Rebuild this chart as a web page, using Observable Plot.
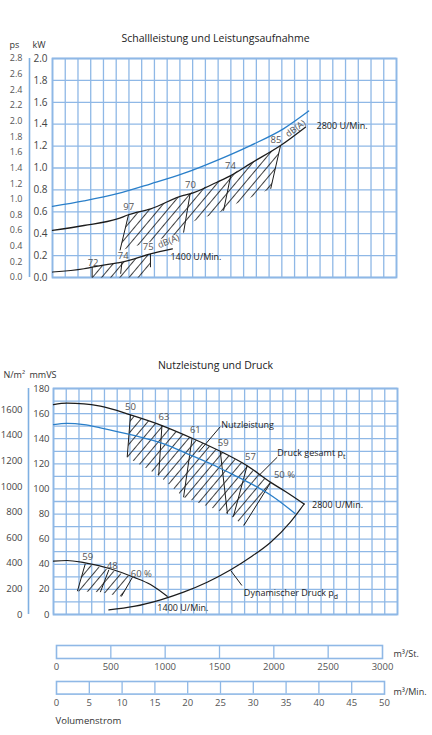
<!DOCTYPE html>
<html><head><meta charset="utf-8">
<script src="https://cdn.jsdelivr.net/npm/d3@7"></script>
<script src="https://cdn.jsdelivr.net/npm/@observablehq/plot@0.6"></script>
<style>
body{margin:0;background:#fff;}
#wrap{position:relative;width:432px;height:735px;overflow:hidden;background:#fff;}
.part{position:absolute;left:0;}
</style></head><body><div id="wrap"></div>
<script>
// ---------------- data (volume flow Q in m³/min) ----------------
const PS_PER_KW = 1.4;          // ps labels as drawn on the chart
const NM2_PER_MMVS = 9.81;
const xDomainTop = [-0.6, 51.9];
const xDomainBot = [-0.45, 52.05];
const gridCols = 27;

const kwTicks = [0.0, 0.2, 0.4, 0.6, 0.8, 1.0, 1.2, 1.4, 1.6, 1.8, 2.0];
const psTicks = [0.0, 0.2, 0.4, 0.6, 0.8, 1.0, 1.2, 1.4, 1.6, 1.8, 2.0, 2.2, 2.4, 2.6, 2.8];
const mmTicks = [0, 20, 40, 60, 80, 100, 120, 140, 160, 180];
const mmGrid = [0, 10, 20, 30, 40, 50, 60, 70, 80, 90, 100, 110, 120, 130, 140, 150, 160, 170, 180];
const nmTicks = [0, 200, 400, 600, 800, 1000, 1200, 1400, 1600];
const stTicks = [0, 500, 1000, 1500, 2000, 2500, 3000];
const minTicks = [0, 5, 10, 15, 20, 25, 30, 35, 40, 45, 50];

// top chart: Leistungsaufnahme (blue) and Schallleistung curves
const pow2800Q  = [-0.6, 4.2, 9.3, 14.4, 19.4, 24.5, 29.6, 34.7, 38.5];
const pow2800kW = [0.65, 0.70, 0.765, 0.855, 0.95, 1.07, 1.205, 1.36, 1.52];
const snd2800Q  = [-0.6, 4.2, 9.3, 11.0, 14.4, 19.4, 20.4, 24.5, 26.6, 29.6, 34.2, 38.0];
const snd2800kW = [0.43, 0.475, 0.535, 0.573, 0.627, 0.75, 0.764, 0.87, 0.93, 1.04, 1.205, 1.373];
const snd1400Q  = [-0.6, 4.2, 5.45, 9.3, 10.0, 14.35, 17.7];
const snd1400kW = [0.05, 0.08, 0.094, 0.134, 0.14, 0.216, 0.262];

const hatchT2800Q  = [11.0, 14.4, 19.4, 24.5, 29.6, 34.2, 32.7, 26.1, 25.5, 20.5, 19.4, 9.7];
const hatchT2800kW = [0.573, 0.627, 0.75, 0.87, 1.04, 1.205, 0.81, 0.64, 0.61, 0.505, 0.41, 0.247];
const hatchT1400Q  = [5.45, 9.3, 10.0, 14.35, 14.35, 12.8, 5.45];
const hatchT1400kW = [0.094, 0.134, 0.14, 0.216, 0.094, 0.0, 0.0];

const dropTQ1 = [11.0, 20.4, 26.6, 34.2, 5.45, 10.0, 14.35];
const dropTV1 = [0.573, 0.764, 0.93, 1.205, 0.094, 0.14, 0.216];
const dropTQ2 = [9.7, 19.4, 25.5, 32.7, 5.45, 9.8, 14.35];
const dropTV2 = [0.247, 0.41, 0.61, 0.81, 0.0, 0.034, 0.094];

const lblTText = ["97", "70", "74", "85", "72", "74", "75"];
const lblTQ    = [11.04, 20.46, 26.56, 33.5, 5.6, 10.18, 14.0];
const lblTkW   = [0.642, 0.849, 1.023, 1.258, 0.134, 0.195, 0.277];

// bottom chart: Druck gesamt, Nutzleistung, dynamischer Druck
const dr2800Q  = [-0.45, 1.6, 4.2, 6.7, 11.3, 16.1, 20.7, 25.0, 29.1, 32.7, 35.0, 37.8];
const dr2800mm = [167.2, 168.3, 167.8, 165.9, 159.0, 150.5, 140.4, 130.0, 118.5, 105.2, 97.8, 88.0];
const nu2800Q  = [-0.45, 1.6, 4.2, 6.7, 11.8, 16.4, 20.0, 25.0, 27.1, 30.1, 33.0, 36.4];
const nu2800mm = [151.3, 152.3, 151.3, 148.7, 142.6, 135.9, 128.0, 116.5, 111.0, 103.0, 94.0, 80.5];
const dynQ  = [8.0, 11.8, 15.9, 19.4, 23.0, 26.6, 29.6, 32.7, 35.7, 37.8];
const dynmm = [3.7, 6.4, 11.7, 17.8, 25.7, 35.6, 45.6, 57.6, 73.6, 88.0];
const dr1400Q  = [-0.45, 1.6, 4.2, 8.2, 11.8, 14.35, 16.9];
const dr1400mm = [42.5, 43.0, 41.3, 36.4, 29.7, 23.9, 14.5];

const hatchB2800Q  = [11.3, 16.1, 20.7, 25.0, 29.1, 32.7, 28.6, 26.1, 19.4, 15.6, 10.8];
const hatchB2800mm = [159.0, 150.5, 140.4, 130.0, 118.5, 105.2, 70.9, 80.2, 93.4, 110.7, 125.3];
const hatchB1400Q  = [4.4, 8.0, 11.6, 9.9, 6.7, 3.2];
const hatchB1400mm = [40.4, 35.6, 29.7, 14.3, 17.8, 18.6];

const dropBQ1 = [11.3, 16.1, 20.7, 25.0, 29.1, 32.7, 4.4, 8.0, 11.6];
const dropBV1 = [159.0, 150.5, 140.4, 130.0, 118.5, 105.2, 40.4, 35.6, 29.7];
const dropBQ2 = [10.8, 15.6, 19.4, 26.1, 27.0, 28.6, 3.2, 6.7, 9.9];
const dropBV2 = [125.3, 110.7, 93.4, 80.2, 78.0, 70.9, 18.6, 17.8, 14.3];

const lblBText = ["50", "63", "61", "59", "57", "50 %", "59", "48", "60 %"];
const lblBQ    = [11.3, 16.4, 21.2, 25.45, 29.6, 34.8, 4.78, 8.5, 12.95];
const lblBmm   = [165.7, 157.7, 147.3, 136.4, 125.3, 111.3, 46.2, 39.0, 32.4];

const namesBText = ["Nutzleistung", "Druck gesamt p_t", "2800 U/Min.", "Dynamischer Druck p_d", "1400 U/Min."];
const namesBQ    = [25.15, 33.7, 39.0, 28.6, 15.4];
const namesBmm   = [150.8, 128.5, 87.4, 17.0, 5.3];
const leadBQ1 = [25.0, 33.7, 28.3];
const leadBV1 = [149.5, 125.3, 23.1];
const leadBQ2 = [21.7, 30.9, 26.6];
const leadBV2 = [129.3, 110.7, 35.0];

// ---------------- styles ----------------
const FONT = "'Open Sans', 'Noto Sans', sans-serif";
const GRID = "#8fb8e6";
const AXBLUE = "#7fb0e2";
const BLUE = "#2a7fc9";
const INK = "#1c1c1c";
const NUM = "#555";

const T = (q, v) => q.map((d, i) => ({q: d, v: v[i]}));
const L = (q1, v1, q2, v2) => q1.map((d, i) => ({q1: d, v1: v1[i], q2: q2[i], v2: v2[i]}));
const cols = (dom) => d3.range(gridCols + 1).map(i => dom[0] + i * (dom[1] - dom[0]) / gridCols);

function addHatch(svg, id, spacing, angle) {
  const p = d3.select(svg).insert("defs", ":first-child").append("pattern")
    .attr("id", id).attr("patternUnits", "userSpaceOnUse")
    .attr("width", spacing).attr("height", spacing)
    .attr("patternTransform", `rotate(${angle})`);
  p.append("line").attr("x1", spacing / 2).attr("y1", 0).attr("x2", spacing / 2).attr("y2", spacing)
    .attr("stroke", INK).attr("stroke-width", 0.85);
}
function place(node, top) {
  const d = document.createElement("div");
  d.className = "part"; d.style.top = top + "px";
  d.appendChild(node);
  document.getElementById("wrap").appendChild(d);
}
const curveOpts = (stroke, w) => ({x: "q", y: "v", stroke, strokeWidth: w, curve: "monotone-x"});

// ---------------- top chart ----------------
const topPlot = Plot.plot({
  width: 432, height: 290,
  marginLeft: 52, marginRight: 36, marginTop: 58, marginBottom: 13,
  style: {fontFamily: FONT, background: "white", overflow: "visible"},
  x: {domain: xDomainTop, axis: null},
  y: {domain: [0, 2.0]},
  marks: [
    Plot.gridX(cols(xDomainTop), {stroke: GRID, strokeOpacity: 1, strokeWidth: 1.3}),
    Plot.gridY(kwTicks, {stroke: GRID, strokeOpacity: 1, strokeWidth: 1.3}),
    Plot.frame({stroke: GRID, strokeWidth: 1.8}),
    Plot.ruleX([xDomainTop[0]], {y1: 0, y2: 2.0, dx: -23, stroke: AXBLUE, strokeWidth: 1.6}),
    Plot.line(T(hatchT2800Q, hatchT2800kW), {x: "q", y: "v", curve: "linear-closed", fill: "url(#hatchTop)", stroke: "none"}),
    Plot.line(T(hatchT1400Q, hatchT1400kW), {x: "q", y: "v", curve: "linear-closed", fill: "url(#hatchTop)", stroke: "none"}),
    Plot.link(L(dropTQ1, dropTV1, dropTQ2, dropTV2), {x1: "q1", y1: "v1", x2: "q2", y2: "v2", stroke: INK, strokeWidth: 1}),
    Plot.line(T(pow2800Q, pow2800kW), curveOpts(BLUE, 1.3)),
    Plot.line(T(snd2800Q, snd2800kW), curveOpts(INK, 1.3)),
    Plot.line(T(snd1400Q, snd1400kW), curveOpts(INK, 1.2)),
    Plot.text(T(lblTQ, lblTkW), {x: "q", y: "v", text: (d, i) => lblTText[i], fontSize: 9.5, fill: NUM}),
    Plot.text(["dB(A)"], {x: [17.1], y: [0.33], rotate: -22, fontSize: 9, fill: NUM}),
    Plot.text(["dB(A)"], {x: [36.5], y: [1.36], rotate: -36, fontSize: 9, fill: NUM}),
    Plot.text(["2800 U/Min."], {x: [39.7], y: [1.379], textAnchor: "start", fontSize: 9, fill: INK}),
    Plot.text(["1400 U/Min."], {x: [17.4], y: [0.183], textAnchor: "start", fontSize: 9, fill: INK}),
    Plot.axisY(kwTicks, {anchor: "left", tickSize: 0, tickPadding: 5, tickFormat: d => d.toFixed(1), label: null, fontSize: 10, fill: "#444"}),
    Plot.axisY(psTicks.map(p => p / PS_PER_KW), {anchor: "left", tickSize: 0, tickPadding: 6, dx: -24, tickFormat: d => (d * PS_PER_KW).toFixed(1), label: null, fontSize: 9, fill: "#555"}),
    Plot.text(["Schallleistung und Leistungsaufnahme"], {frameAnchor: "top", dx: -9, dy: -24, fontSize: 10.5, fill: "#222"}),
    Plot.text(["ps"], {frameAnchor: "top-left", dx: -43, dy: -17, textAnchor: "start", fontSize: 9, fill: "#333"}),
    Plot.text(["kW"], {frameAnchor: "top-left", dx: -20, dy: -17, textAnchor: "start", fontSize: 9, fill: "#333"})
  ]
});
addHatch(topPlot, "hatchTop", 7, 40);
place(topPlot, 0);

// ---------------- bottom chart ----------------
const botPlot = Plot.plot({
  width: 432, height: 290,
  marginLeft: 53, marginRight: 35, marginTop: 58, marginBottom: 6,
  style: {fontFamily: FONT, background: "white", overflow: "visible"},
  x: {domain: xDomainBot, axis: null},
  y: {domain: [0, 180]},
  marks: [
    Plot.gridX(cols(xDomainBot), {stroke: GRID, strokeOpacity: 1, strokeWidth: 1.3}),
    Plot.gridY(mmGrid, {stroke: GRID, strokeOpacity: 1, strokeWidth: 1.3}),
    Plot.frame({stroke: GRID, strokeWidth: 1.8}),
    Plot.ruleX([xDomainBot[0]], {y1: 0, y2: 180, dx: -25, stroke: AXBLUE, strokeWidth: 1.6}),
    Plot.line(T(hatchB2800Q, hatchB2800mm), {x: "q", y: "v", curve: "linear-closed", fill: "url(#hatchBot)", stroke: "none"}),
    Plot.line(T(hatchB1400Q, hatchB1400mm), {x: "q", y: "v", curve: "linear-closed", fill: "url(#hatchBot)", stroke: "none"}),
    Plot.link(L(dropBQ1, dropBV1, dropBQ2, dropBV2), {x1: "q1", y1: "v1", x2: "q2", y2: "v2", stroke: INK, strokeWidth: 1}),
    Plot.link(L(leadBQ1, leadBV1, leadBQ2, leadBV2), {x1: "q1", y1: "v1", x2: "q2", y2: "v2", stroke: INK, strokeWidth: 1}),
    Plot.line(T(nu2800Q, nu2800mm), curveOpts(BLUE, 1.3)),
    Plot.line(T(dr2800Q, dr2800mm), curveOpts(INK, 1.3)),
    Plot.line(T(dynQ, dynmm), curveOpts(INK, 1.2)),
    Plot.line(T(dr1400Q, dr1400mm), curveOpts(INK, 1.2)),
    Plot.text(T(lblBQ, lblBmm), {x: "q", y: "v", text: (d, i) => lblBText[i], fontSize: 9.5, fill: NUM}),
    Plot.text(T(namesBQ, namesBmm), {x: "q", y: "v", text: (d, i) => namesBText[i], textAnchor: "start", fontSize: 9, fill: INK}),
    Plot.axisY(mmTicks, {anchor: "left", tickSize: 0, tickPadding: 4, tickFormat: d => String(d), label: null, fontSize: 9.5, fill: "#444"}),
    Plot.axisY(nmTicks.map(n => n / NM2_PER_MMVS), {anchor: "left", tickSize: 0, tickPadding: 4, dx: -27, tickFormat: d => String(Math.round(d * NM2_PER_MMVS)), label: null, fontSize: 9.5, fill: "#444"}),
    Plot.text(["Nutzleistung und Druck"], {frameAnchor: "top", dx: -10, dy: -27, fontSize: 10.5, fill: "#222"}),
    Plot.text(["N/m²"], {frameAnchor: "top-left", dx: -50, dy: -17, textAnchor: "start", fontSize: 9, fill: "#333"}),
    Plot.text(["mmVS"], {frameAnchor: "top-left", dx: -24, dy: -17, textAnchor: "start", fontSize: 9, fill: "#333"})
  ]
});
addHatch(botPlot, "hatchBot", 7, 40);
d3.select(botPlot).selectAll("text").each(function() {
  const t = this.textContent;
  const m = t.match(/^(.*)_(\w)$/);
  if (m && this.children.length === 0) {
    const s = d3.select(this);
    s.text(m[1]);
    s.append("tspan").attr("font-size", "7px").attr("dy", "2.5").text(m[2]);
  }
});
place(botPlot, 330);

// ---------------- volume-flow bars ----------------
const BAR = "#8fb8e6";
const barSt = Plot.plot({
  width: 432, height: 32, marginLeft: 56, marginRight: 50, marginTop: 1, marginBottom: 18,
  style: {fontFamily: FONT, background: "white", overflow: "visible"},
  x: {domain: [0, 3000]},
  marks: [
    Plot.frame({stroke: BAR, strokeWidth: 1.6}),
    Plot.ruleX(stTicks.slice(1, -1), {stroke: BAR, strokeWidth: 1.3}),
    Plot.axisX(stTicks, {anchor: "bottom", tickSize: 0, tickPadding: 5, tickFormat: d => String(d), label: null, fontSize: 9.5, fill: "#555"}),
    Plot.text(["m³/St."], {frameAnchor: "right", dx: 11, dy: 2, textAnchor: "start", fontSize: 9, fill: "#333"})
  ]
});
place(barSt, 644.3);

const barMin = Plot.plot({
  width: 432, height: 55, marginLeft: 56, marginRight: 48, marginTop: 1, marginBottom: 41.4,
  style: {fontFamily: FONT, background: "white", overflow: "visible"},
  x: {domain: [0, 50]},
  marks: [
    Plot.frame({stroke: BAR, strokeWidth: 1.6}),
    Plot.ruleX(minTicks.slice(1, -1), {stroke: BAR, strokeWidth: 1.3}),
    Plot.axisX(minTicks, {anchor: "bottom", tickSize: 0, tickPadding: 5, tickFormat: d => String(d), label: null, fontSize: 9.5, fill: "#555"}),
    Plot.text(["m³/Min."], {frameAnchor: "right", dx: 9, dy: 4, textAnchor: "start", fontSize: 9, fill: "#333"}),
    Plot.text(["Volumenstrom"], {frameAnchor: "bottom-left", dx: -1, dy: 29.4, textAnchor: "start", fontSize: 9.5, fill: "#333"})
  ]
});
place(barMin, 679.7);
</script></body></html>
